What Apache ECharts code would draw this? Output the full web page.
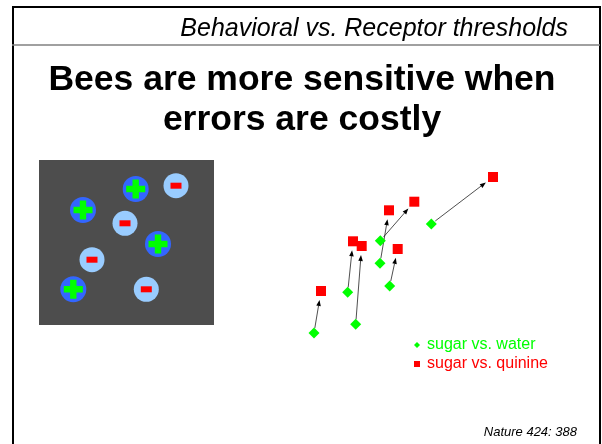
<!DOCTYPE html>
<html>
<head>
<meta charset="utf-8">
<script src="https://cdn.jsdelivr.net/npm/echarts@6/dist/echarts.min.js"></script>
<style>
html,body{margin:0;padding:0;background:#fff;}
#main{width:602px;height:444px;}
</style>
</head>
<body>
<div id="main"></div>
<script>
// ---- Data ----
const headerText = 'Behavioral vs. Receptor thresholds';
const titleText = 'Bees are more sensitive when\nerrors are costly';
const sourceText = 'Nature 424: 388';
const seriesNames = ['sugar vs. water', 'sugar vs. quinine'];

// sugar vs. water (green diamonds), arbitrary threshold units
const waterX = [14, 47.7, 55.7, 80, 80.3, 89.7, 131.3];
const waterY = [7, 47.7, 15.7, 76.7, 99.3, 54, 116];
// sugar vs. quinine (red squares), paired by index with the water points
const quinineX = [21, 53, 61.7, 89, 114.3, 97.7, 193];
const quinineY = [49, 98.7, 94, 129.7, 138.3, 91, 163];

// illustration: rewarding (+) and punishing (-) flowers
const plusX = [96.7, 44, 119, 34.3];
const plusY = [136, 115, 81, 35.7];
const minusX = [137, 86, 53, 107.3];
const minusY = [139.3, 101.7, 65.3, 35.7];

// ---- Build ----
const FONT = '"Liberation Sans", Arial, Helvetica, sans-serif';
const zip = (a, b) => a.map((v, i) => [v, b[i]]);
const arrows = waterX.map((x, i) => [x, waterY[i], quinineX[i], quinineY[i]]);

const chart = echarts.init(document.getElementById('main'), null, {renderer: 'canvas'});

const option = {
  backgroundColor: '#ffffff',
  animation: false,
  title: [
    {text: headerText, right: 34, top: 17, padding: 0,
     textStyle: {fontFamily: FONT, fontStyle: 'italic', fontWeight: 'normal', fontSize: 25, lineHeight: 25, color: '#000'}},
    {text: titleText, left: 302, textAlign: 'center', top: 60, padding: 0,
     textStyle: {fontFamily: FONT, fontWeight: 'bold', fontSize: 35.5, lineHeight: 40, color: '#000'}},
    {text: sourceText, right: 25, top: 425, padding: 0,
     textStyle: {fontFamily: FONT, fontStyle: 'italic', fontWeight: 'normal', fontSize: 13, lineHeight: 14, color: '#000'}}
  ],
  graphic: [
    {type: 'line', shape: {x1: 12, y1: 7, x2: 601, y2: 7}, style: {stroke: '#000', lineWidth: 2}},
    {type: 'line', shape: {x1: 13, y1: 6, x2: 13, y2: 444}, style: {stroke: '#000', lineWidth: 2}},
    {type: 'line', shape: {x1: 600, y1: 6, x2: 600, y2: 444}, style: {stroke: '#000', lineWidth: 2}},
    {type: 'line', shape: {x1: 12, y1: 45, x2: 600, y2: 45}, style: {stroke: '#808080', lineWidth: 1.5}}
  ],
  legend: {
    orient: 'vertical', left: 414, top: 337, padding: 0,
    itemWidth: 6, itemHeight: 6, itemGap: 3,
    textStyle: {fontFamily: FONT, fontSize: 16, padding: [0, 0, 0, 2]},
    data: [
      {name: seriesNames[0], icon: 'diamond', textStyle: {color: '#00ff00'}},
      {name: seriesNames[1], icon: 'rect', textStyle: {color: '#ff0000'}}
    ]
  },
  grid: [
    {left: 300, top: 160, width: 200, height: 180, show: false},
    {left: 39, top: 160, width: 175, height: 165, show: true, backgroundColor: '#4d4d4d', borderWidth: 0}
  ],
  xAxis: [
    {type: 'value', gridIndex: 0, min: 0, max: 200, show: false},
    {type: 'value', gridIndex: 1, min: 0, max: 175, show: false}
  ],
  yAxis: [
    {type: 'value', gridIndex: 0, min: 0, max: 180, show: false},
    {type: 'value', gridIndex: 1, min: 0, max: 165, show: false}
  ],
  series: [
    {
      type: 'custom', name: 'arrows', xAxisIndex: 0, yAxisIndex: 0, z: 1,
      data: arrows, encode: {x: [0, 2], y: [1, 3]}, silent: true,
      renderItem: function (params, api) {
        const p1 = api.coord([api.value(0), api.value(1)]);
        const p2 = api.coord([api.value(2), api.value(3)]);
        const dx = p2[0] - p1[0], dy = p2[1] - p1[1];
        const len = Math.sqrt(dx * dx + dy * dy);
        const ux = dx / len, uy = dy / len;
        const nx = -uy, ny = ux;
        const s = [p1[0] + ux * 5, p1[1] + uy * 5];
        const t = [p2[0] - ux * 9, p2[1] - uy * 9];
        const hb = [t[0] - ux * 6, t[1] - uy * 6];
        return {
          type: 'group',
          children: [
            {type: 'line', shape: {x1: s[0], y1: s[1], x2: hb[0], y2: hb[1]},
             style: {stroke: '#222', lineWidth: 0.8}},
            {type: 'polygon', shape: {points: [t, [hb[0] + nx * 2.3, hb[1] + ny * 2.3], [hb[0] - nx * 2.3, hb[1] - ny * 2.3]]},
             style: {fill: '#000'}}
          ]
        };
      }
    },
    {
      type: 'scatter', name: seriesNames[0], xAxisIndex: 0, yAxisIndex: 0, z: 3,
      symbol: 'diamond', symbolSize: [11, 11],
      itemStyle: {color: '#00ff00', opacity: 1},
      data: zip(waterX, waterY)
    },
    {
      type: 'scatter', name: seriesNames[1], xAxisIndex: 0, yAxisIndex: 0, z: 3,
      symbol: 'rect', symbolSize: [10, 10],
      itemStyle: {color: '#ff0000', opacity: 1},
      data: zip(quinineX, quinineY)
    },
    {
      type: 'scatter', name: 'plus flowers', xAxisIndex: 1, yAxisIndex: 1, z: 2,
      symbol: 'circle', symbolSize: 26, silent: true,
      itemStyle: {color: '#3366ff', opacity: 1},
      data: zip(plusX, plusY)
    },
    {
      type: 'scatter', name: 'minus flowers', xAxisIndex: 1, yAxisIndex: 1, z: 2,
      symbol: 'circle', symbolSize: 25, silent: true,
      itemStyle: {color: '#99ccff', opacity: 1},
      data: zip(minusX, minusY)
    },
    {
      type: 'scatter', name: 'plus signs', xAxisIndex: 1, yAxisIndex: 1, z: 4,
      symbol: 'path://M6.3,0H12.7V6.3H19V12.7H12.7V19H6.3V12.7H0V6.3H6.3Z', symbolSize: 19, silent: true,
      itemStyle: {color: '#00ff00', opacity: 1},
      data: zip(plusX, plusY)
    },
    {
      type: 'scatter', name: 'minus signs', xAxisIndex: 1, yAxisIndex: 1, z: 4,
      symbol: 'rect', symbolSize: [11, 6], silent: true,
      itemStyle: {color: '#ff0000', opacity: 1},
      data: zip(minusX, minusY)
    }
  ]
};
chart.setOption(option);
</script>
</body>
</html>
